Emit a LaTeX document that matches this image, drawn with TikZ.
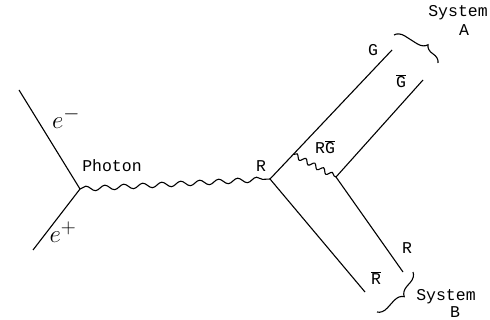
\documentclass[tikz,border=0pt]{standalone}
\usepackage{fontspec}
\setmonofont{Liberation Mono}
\usetikzlibrary{decorations.pathmorphing,decorations.pathreplacing,calc}
\begin{document}
\begin{tikzpicture}[x=1pt,y=-1pt,
  line/.style={line width=1.1pt},
  photon/.style={line width=1.1pt,decorate,decoration={snake,amplitude=2.5pt,segment length=19pt}},
  gluon/.style={line width=1.1pt,decorate,decoration={snake,amplitude=2.4pt,segment length=10pt}},
  lab/.style={font=\fontsize{16.5}{18}\selectfont\ttfamily,inner sep=0pt},
  elab/.style={font=\fontsize{30}{32}\selectfont,inner sep=0pt},
  bracestyle/.style={line width=1.1pt,decorate,decoration={brace,amplitude=10pt,aspect=0.65}}]
\useasboundingbox (0,0) rectangle (490,320);
% vertices and ends
\coordinate (v1) at (80,189);
\coordinate (em) at (19,90);
\coordinate (ep) at (33,250);
\coordinate (v2) at (270,179);
\coordinate (gend) at (392,50);
\coordinate (rbarend) at (365,292);
\coordinate (g1) at ($(v2)!0.19!(gend)$);
\coordinate (g2) at (336,177);
\coordinate (gbarend) at (423,80);
\coordinate (rend) at (403,272);
% fermion lines
\draw[line] (em) -- (v1) -- (ep);
\draw[line] (gend) -- (v2) -- (rbarend);
\draw[line] (gbarend) -- (g2) -- (rend);
% photon and gluon
\draw[photon] (v1) -- (v2);
\draw[gluon] (g1) -- (g2);
% braces
\coordinate (ba1) at (394,35);
\coordinate (ba2) at (438,63);
\draw[bracestyle] (ba1) -- (ba2);
\coordinate (bb1) at (413,272);
\coordinate (bb2) at (377,312);
\draw[bracestyle,decoration={aspect=0.45}] (bb1) -- (bb2);
% labels
\node[elab] (lem) at (66,118) {$e^{-}$};
\node[elab] (lep) at (63,232) {$e^{+}$};
\node[lab] (lph) at (112,166) {Photon};
\node[lab] (lr1) at (261,166) {R};
\node[lab] (lg) at (373,50) {G};
\node[lab] (lgb) at (401,81) {$\overline{\mbox{G}}$};
\node[lab] (lrg) at (325,147) {R$\overline{\mbox{G}}$};
\node[lab] (lr2) at (407,248) {R};
\node[lab] (lrb) at (376,278) {$\overline{\mbox{R}}$};
\node[lab] (sa) at (458,13) {System};
\node[lab] (sa2) at (464,30) {A};
\node[lab] (sb) at (446,297) {System};
\node[lab] (sb2) at (455,312) {B};
\end{tikzpicture}
\end{document}
